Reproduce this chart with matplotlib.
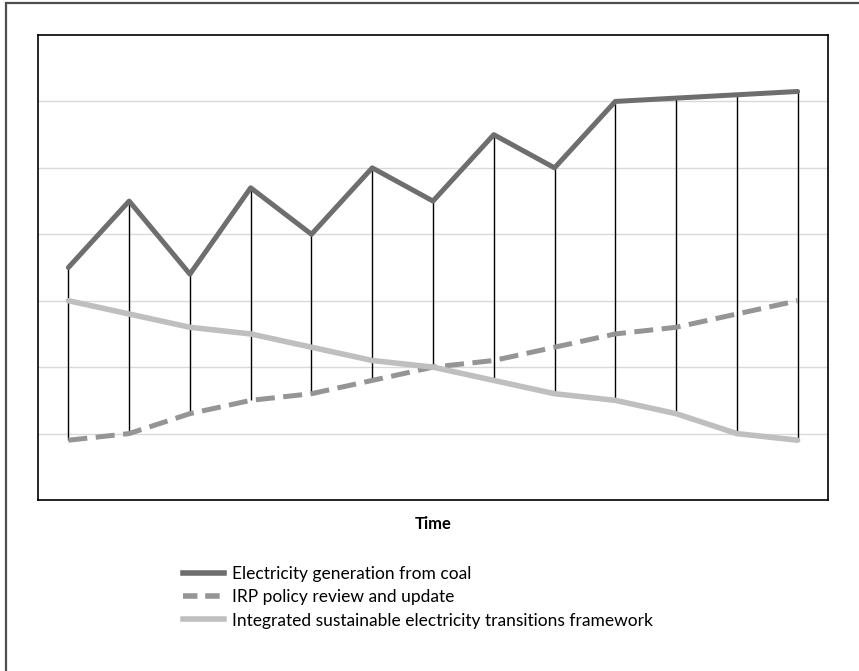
import numpy as np
import matplotlib.pyplot as plt
from matplotlib.patches import Rectangle
from matplotlib.lines import Line2D

# values (category axis, 13 time steps)
periods = list(range(1, 14))
coal = [3.5, 4.5, 3.4, 4.7, 4.0, 5.0, 4.5, 5.5, 5.0, 6.0, 6.05, 6.1, 6.15]
irp = [0.9, 1.0, 1.3, 1.5, 1.6, 1.8, 2.0, 2.1, 2.3, 2.5, 2.6, 2.8, 3.0]
transition = [3.0, 2.8, 2.6, 2.5, 2.3, 2.1, 2.0, 1.8, 1.6, 1.5, 1.3, 1.0, 0.9]
labels = ['Electricity generation from coal',
          'IRP policy review and update',
          'Integrated sustainable electricity transitions framework']

plt.rcParams['font.family'] = ['Lato', 'DejaVu Sans']

fig = plt.figure(figsize=(8.59, 6.71), dpi=100)
W, H = 859, 671

# outer frame (only top and left visible in the crop)
fig.patches.append(Rectangle((6 / W, -0.1), 1.2, 1 - 3 / H + 0.1, transform=fig.transFigure,
                             fill=False, edgecolor='#4d4d4d', linewidth=1.6, zorder=0))

ax = fig.add_axes([38 / W, 1 - 500 / H, 790 / W, 465 / H])
x = np.arange(len(periods))

# high-low lines: coal point down to the lower of the other two series
low = np.minimum(irp, transition)
ax.vlines(x, low, coal, color='black', linewidth=1, zorder=2)

ax.plot(x, coal, color='#6e6e70', linewidth=3.6, solid_capstyle='round', zorder=4)
ax.plot(x, irp, color='#959597', linewidth=3.6, linestyle=(0, (3.8, 1.7)), zorder=3)
ax.plot(x, transition, color='#bfbfc0', linewidth=4, solid_capstyle='round', zorder=3)

ax.set_xlim(-0.5, len(periods) - 0.5)
ax.set_ylim(0, 7)
ax.set_yticks(np.arange(1, 7))
ax.yaxis.grid(True, color='#d9d9d9', linewidth=1)
ax.set_axisbelow(True)
ax.tick_params(left=False, bottom=False, labelleft=False, labelbottom=False)
for s in ax.spines.values():
    s.set_color('black')
    s.set_linewidth(1.2)

fig.text(433 / W, 1 - 524 / H, 'Time', ha='center', va='center', fontsize=12, fontweight='bold')

handles = [Line2D([], [], color='#6e6e70', linewidth=4),
           Line2D([], [], color='#959597', linewidth=4, linestyle=(0, (2.6, 1.4))),
           Line2D([], [], color='#bfbfc0', linewidth=4)]
fig.legend(handles, labels, loc='upper left', bbox_to_anchor=(176 / W, 1 - 559 / H),
           frameon=False, fontsize=12.5, handlelength=2.35, handletextpad=0.45,
           labelspacing=0.42, borderaxespad=0)

fig.savefig('out.png', dpi=100, facecolor='white')
